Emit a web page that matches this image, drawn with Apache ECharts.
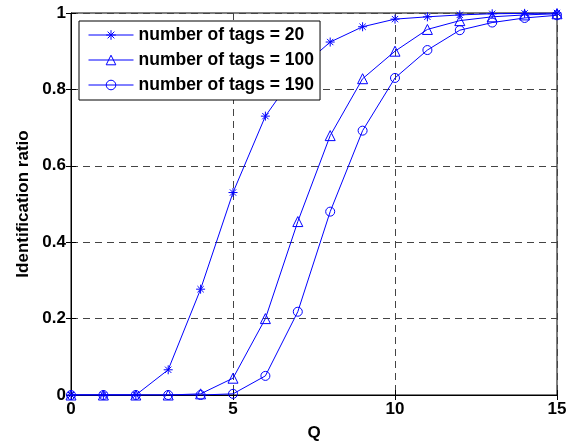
<!DOCTYPE html>
<html><head><meta charset="utf-8">
<script src="https://cdn.jsdelivr.net/npm/echarts@6/dist/echarts.min.js"></script>
<style>html,body{margin:0;padding:0;background:#fff}#c{width:575px;height:447px}</style>
</head><body><div id="c"></div>
<script>
var q = [0,1,2,3,4,5,6,7,8,9,10,11,12,13,14,15];
var tags20  = [0,0,0,0.066,0.277,0.53,0.73,0.85,0.924,0.964,0.984,0.99,0.995,0.998,0.999,1.0];
var tags100 = [0,0,0,0,0.003,0.044,0.2,0.454,0.679,0.828,0.90,0.957,0.98,0.99,0.995,0.998];
var tags190 = [0,0,0,0,0,0.003,0.05,0.218,0.48,0.692,0.83,0.903,0.955,0.975,0.987,0.994];
var names = ['number of tags = 20','number of tags = 100','number of tags = 190'];
var xTicks = [0,5,10,15];
var yTicks = [0,0.2,0.4,0.6,0.8,1];

function pairs(v){ return q.map(function(x,i){return [x,v[i]];}); }
var star = 'path://M0,-10L0,10M-10,0L10,0M-7,-7L7,7M-7,7L7,-7';
var font = 'Liberation Sans';
var chart = echarts.init(document.getElementById('c'));
function mk(name, data, symbol, size, fill){
  return {name:name,type:'line',data:pairs(data),symbol:symbol,symbolSize:size,
    showAllSymbol:true,
    lineStyle:{color:'#0000ff',width:1},
    itemStyle:{color:fill,borderColor:'#0000ff',borderWidth:1},
    emphasis:{disabled:true},animation:false};
}
chart.setOption({
  animation:false,
  grid:{left:71,right:18,top:13,bottom:51,show:true,borderColor:'#000',borderWidth:1,backgroundColor:'transparent'},
  legend:{left:79,top:21,orient:'vertical',itemWidth:45,itemHeight:12,itemGap:7,
    padding:[5,6,6,9],borderColor:'#000',borderWidth:1,backgroundColor:'#fff',
    lineStyle:{width:1},itemStyle:{borderWidth:1},
    textStyle:{fontFamily:font,fontWeight:'bold',fontSize:17.5,color:'#000'},
    data:names},
  xAxis:[{type:'value',min:0,max:15,interval:5,name:'Q',nameLocation:'middle',nameGap:30,
    nameTextStyle:{fontFamily:font,fontWeight:'bold',fontSize:17,color:'#000'},
    axisLine:{show:true,lineStyle:{color:'#000'}},
    axisTick:{show:true,inside:true,length:5,lineStyle:{color:'#000'}},
    axisLabel:{fontFamily:font,fontWeight:'bold',fontSize:17,color:'#000',margin:6},
    splitLine:{show:true,lineStyle:{color:'#444',type:[7,5],width:1}}},
    {type:'value',min:0,max:15,interval:5,position:'top',
    axisLine:{show:false},axisTick:{show:true,inside:true,length:5,lineStyle:{color:'#000'}},
    axisLabel:{show:false},splitLine:{show:false}}],
  yAxis:[{type:'value',min:0,max:1,interval:0.2,name:'Identification ratio',nameLocation:'middle',nameGap:39,
    nameTextStyle:{fontFamily:font,fontWeight:'bold',fontSize:17,color:'#000'},
    axisLine:{show:true,lineStyle:{color:'#000'}},
    axisTick:{show:true,inside:true,length:5,lineStyle:{color:'#000'}},
    axisLabel:{fontFamily:font,fontWeight:'bold',fontSize:17,color:'#000',margin:5,
      formatter:function(v){return String(Math.round(v*10)/10);}},
    splitLine:{show:true,lineStyle:{color:'#444',type:[7,5],width:1}}},
    {type:'value',min:0,max:1,interval:0.2,position:'right',
    axisLine:{show:false},axisTick:{show:true,inside:true,length:5,lineStyle:{color:'#000'}},
    axisLabel:{show:false},splitLine:{show:false}}],
  series:[
    mk(names[0],tags20,star,9,'#0000ff'),
    mk(names[1],tags100,'triangle',10,'rgba(255,255,255,0)'),
    mk(names[2],tags190,'circle',9,'rgba(255,255,255,0)')
  ]
});
</script></body></html>
